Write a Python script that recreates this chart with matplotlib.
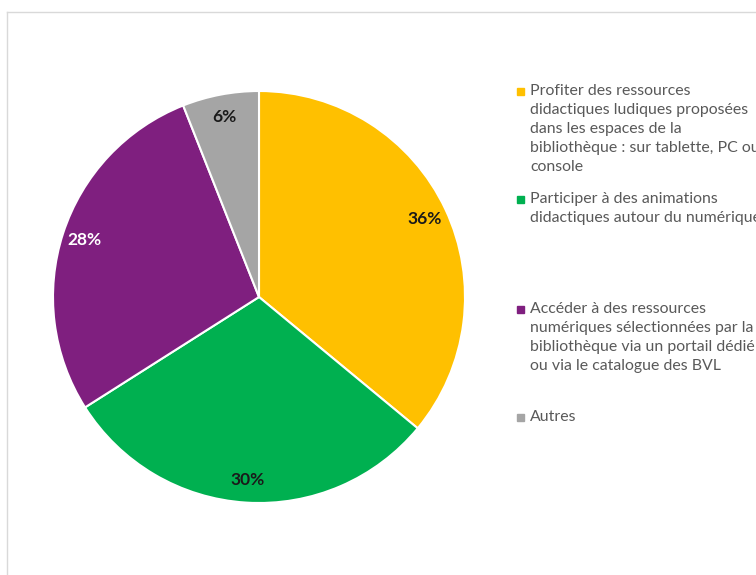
import matplotlib.pyplot as plt
from matplotlib.lines import Line2D
from matplotlib.patches import Rectangle

labels = [
    "Profiter des ressources\ndidactiques ludiques proposées\ndans les espaces de la\nbibliothèque : sur tablette, PC ou\nconsole",
    "Participer à des animations\ndidactiques autour du numérique",
    "Accéder à des ressources\nnumériques sélectionnées par la\nbibliothèque via un portail dédié\nou via le catalogue des BVL",
    "Autres",
]
shares = [36, 30, 28, 6]
colors = ["#FFC000", "#00B050", "#7F1F7F", "#A5A5A5"]
label_colors = ["#1A1A1A", "#1A1A1A", "white", "#1A1A1A"]

W, H = 756, 575
fig = plt.figure(figsize=(W / 100, H / 100), dpi=100)

# light frame, cut off on the right and bottom
fig.add_artist(Line2D([7 / W, 7 / W], [0, 1 - 12 / H], color="#D9D9D9", lw=1))
fig.add_artist(Line2D([7 / W, 1], [1 - 12 / H, 1 - 12 / H], color="#D9D9D9", lw=1))

ax = fig.add_axes([53 / W, 72 / H, 412 / W, 412 / H])
wedges, _, autotexts = ax.pie(
    shares, colors=colors, startangle=90, counterclock=False,
    autopct="%d%%", pctdistance=0.89,
    wedgeprops=dict(edgecolor="white", linewidth=1.5),
    textprops=dict(fontsize=12.5, fontweight="bold", family="Lato"),
)
for t, c in zip(autotexts, label_colors):
    t.set_color(c)
ax.set_xlim(-1, 1)
ax.set_ylim(-1, 1)
ax.set_aspect("equal")
ax.axis("off")

# legend drawn by hand so the long lines run off the edge like the original
tops = [84, 192, 302, 410]
for lab, col, top in zip(labels, colors, tops):
    fig.add_artist(Rectangle((517 / W, 1 - (top + 11) / H), 7 / W, 7 / H,
                             transform=fig.transFigure, color=col))
    fig.text(530 / W, 1 - top / H, lab, ha="left", va="top", fontsize=11.4,
             family="Lato", color="#595959", linespacing=1.45)

fig.savefig("out.png", dpi=100)
